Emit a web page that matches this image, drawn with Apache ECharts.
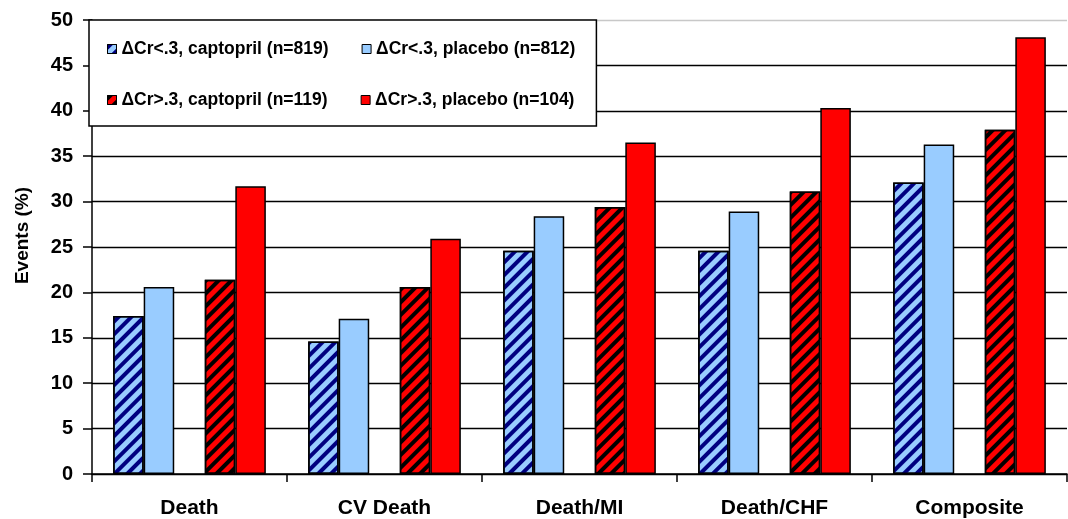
<!DOCTYPE html>
<html>
<head>
<meta charset="utf-8">
<script src="https://cdn.jsdelivr.net/npm/echarts@6/dist/echarts.min.js"></script>
<style>
html,body{margin:0;padding:0;background:#fff;}
#chart{width:1068px;height:519px;}
</style>
</head>
<body>
<div id="chart"></div>
<script>
const categories = ['Death', 'CV Death', 'Death/MI', 'Death/CHF', 'Composite'];
const seriesNames = [
  '\u0394Cr<.3, captopril (n=819)',
  '\u0394Cr<.3, placebo (n=812)',
  '\u0394Cr>.3, captopril (n=119)',
  '\u0394Cr>.3, placebo (n=104)'
];
const lowCaptopril = [17.4, 14.6, 24.6, 24.6, 32.1];
const lowPlacebo = [20.6, 17.1, 28.4, 28.9, 36.3];
const highCaptopril = [21.4, 20.6, 29.4, 31.1, 37.9];
const highPlacebo = [31.7, 25.9, 36.5, 40.3, 48.1];
const yTicks = [0, 5, 10, 15, 20, 25, 30, 35, 40, 45, 50];

const FONT = '"Liberation Sans", Arial, sans-serif';
const border = { borderColor: '#000', borderWidth: 1.5 };
function hatch(color) {
  return {
    symbol: 'rect', symbolSize: 1,
    dashArrayX: [1, 0], dashArrayY: [3.2, 4.3],
    rotation: -Math.PI / 4, color: color
  };
}

const chart = echarts.init(document.getElementById('chart'), null, { renderer: 'canvas' });
chart.setOption({
  animation: false,
  backgroundColor: '#fff',
  grid: { left: 92, right: 1, top: 20, bottom: 44, containLabel: false },
  legend: {
    data: seriesNames,
    left: 89, top: 20,
    width: 500,
    orient: 'horizontal',
    padding: [20, 21, 17, 18],
    itemGap: 33,
    itemWidth: 9, itemHeight: 9,
    icon: 'rect',
    backgroundColor: '#fff',
    borderColor: '#000', borderWidth: 1.5,
    itemStyle: { borderWidth: 1, borderColor: '#000' },
    textStyle: { fontFamily: FONT, fontWeight: 'bold', fontSize: 17.5, color: '#000' },
    z: 10
  },
  xAxis: {
    type: 'category',
    data: categories,
    axisLine: { lineStyle: { color: '#000', width: 1.5 } },
    axisTick: { show: true, length: 8, lineStyle: { color: '#000', width: 1.5 } },
    axisLabel: { fontFamily: FONT, fontWeight: 'bold', fontSize: 21, color: '#000', margin: 24 }
  },
  yAxis: {
    type: 'value',
    min: yTicks[0], max: yTicks[yTicks.length - 1], interval: 5,
    name: 'Events (%)',
    nameLocation: 'middle',
    nameGap: 60,
    nameTextStyle: { fontFamily: FONT, fontWeight: 'bold', fontSize: 19, color: '#000', padding: [0, 0, 0, 23] },
    axisLine: { show: true, lineStyle: { color: '#000', width: 1.5 } },
    axisTick: { show: true, length: 9, lineStyle: { color: '#000', width: 1.5 } },
    axisLabel: { fontFamily: FONT, fontWeight: 'bold', fontSize: 20, color: '#000', margin: 19 },
    splitLine: { show: true, lineStyle: { color: ['#000','#000','#000','#000','#000','#000','#000','#000','#000','#000','#c8c8c8'], width: 1.3 } }
  },
  series: [
    { name: seriesNames[0], type: 'bar', data: lowCaptopril, barGap: '0%', barCategoryGap: '21.7%',
      itemStyle: Object.assign({ color: '#99CCFF', decal: hatch('#000080') }, border) },
    { name: seriesNames[1], type: 'bar', data: lowPlacebo,
      itemStyle: Object.assign({ color: '#99CCFF' }, border) },
    { name: 'spacer', type: 'bar', data: categories.map(() => '-'), itemStyle: { color: 'transparent' } },
    { name: seriesNames[2], type: 'bar', data: highCaptopril,
      itemStyle: Object.assign({ color: '#FF0000', decal: hatch('#000000') }, border) },
    { name: seriesNames[3], type: 'bar', data: highPlacebo,
      itemStyle: Object.assign({ color: '#FF0000' }, border) }
  ]
});
</script>
</body>
</html>
